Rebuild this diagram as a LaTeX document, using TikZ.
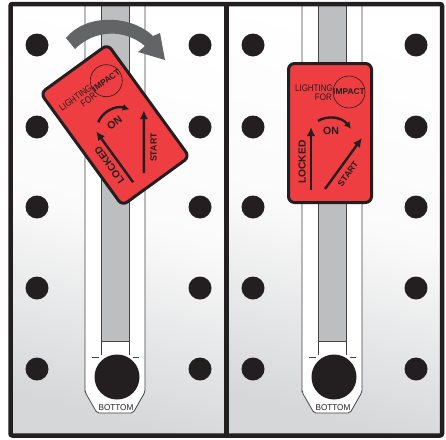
\documentclass[tikz,border=0pt]{standalone}
\usepackage{fontspec}
\usepackage{graphicx}
\usetikzlibrary{arrows.meta}
\setmainfont{Liberation Sans}
\definecolor{ink}{HTML}{231F20}
\definecolor{cardred}{HTML}{EF3E42}
\definecolor{slotgray}{HTML}{BCBEC0}
\definecolor{sweep}{HTML}{636466}
\definecolor{panellow}{HTML}{D6D7D9}
\tikzset{
  x=1pt,y=-1pt,
  peg/.style={circle,fill=ink,draw=none,minimum size=23pt,inner sep=0pt},
  bigpeg/.style={circle,fill=ink,draw=none,minimum size=45pt,inner sep=0pt},
  slotline/.style={draw=ink!85,line width=0.8pt},
  cardarrow/.style={draw=ink,line width=2.4pt,-{Latex[length=9pt,width=8.5pt]}},
  cardtext/.style={inner sep=0pt,text=ink},
  labeltext/.style={cardtext,font=\fontsize{10.2}{10.2}\selectfont\bfseries},
  logotext/.style={cardtext,font=\fontsize{9.5}{9.5}\selectfont},
  panelshade/.style={top color=white,bottom color=panellow,middle color=white!88!panellow,shading angle=-15},
  card/.pic={
    \draw[fill=cardred,draw=ink,line width=3pt,rounded corners=6pt] (-41.5,-69.5) rectangle (41.5,69.5);
    \draw[ink,line width=0.6pt] (19,-41) circle (16);
    \node[logotext,anchor=east] (-l1) at (3,-45) {\scalebox{0.84}[1]{LIGHTING}};
    \node[logotext,anchor=east] (-l2) at (2,-36) {\scalebox{0.84}[1]{FOR}};
    \node[cardtext,font=\fontsize{8.4}{8.4}\selectfont\bfseries] (-imp) at (19,-41) {IMPACT};
    \draw[draw=ink,line width=2.4pt,-{Latex[length=7pt,width=7pt]}] (-12,-12) .. controls (-3,-18) and (12,-16) .. (21,-4);
    \node[labeltext,font=\fontsize{10.5}{10.5}\selectfont\bfseries] (-on) at (1,-2) {ON};
    \coordinate (-a1) at (-19,57); \coordinate (-a2) at (-19,-6);
    \draw[cardarrow] (-a1) -- (-a2);
    \node[labeltext,rotate=90] (-locked) at (-28,29) {LOCKED};
    \coordinate (-b1) at (-5,56); \coordinate (-b2) at (32,5);
    \draw[cardarrow] (-b1) -- (-b2);
    \node[labeltext,font=\fontsize{8.8}{8.8}\selectfont\bfseries,rotate=54] (-start) at (18,41) {START};
  },
  panelslot/.pic={
    \draw[fill=white,draw=ink!85,line width=0.8pt]
      (-30,-380) -- (-30,15) [rounded corners=2pt] -- (-30,15) -- (-18,36) -- (18,36) -- (30,15) [sharp corners] -- (30,-380);
    \fill[slotgray] (-14,-380) rectangle (14,-36);
    \draw[slotline] (-14,-380) -- (-14,-22);
    \draw[slotline] (14,-380) -- (14,-22);
    \draw[slotline] (-14,-36) -- (14,-36);
    \draw[slotline] (-23,-20) -- (-16,-20);
    \draw[slotline] (18,-20) -- (24,-20);
    \node[bigpeg] (-hole) at (2,0) {};
    \node[inner sep=0pt,text=ink,font=\fontsize{8.5}{9}\selectfont] (-bottom) at (1,31) {\scalebox{0.96}[1]{BOTTOM}};
  }
}
\begin{document}
\begin{tikzpicture}
\useasboundingbox (0,0) rectangle (446,439);
\fill[white] (0,0) rectangle (446,439);
\begin{scope}
\clip (10.5,4) rectangle (442,435.5);
\shade[panelshade] (10,4) rectangle (226,436);
\shade[panelshade] (226,4) rectangle (442,436);
\pic (SL) at (115,377) {panelslot};
\pic (SR) at (332,377) {panelslot};
\end{scope}
\foreach \y [count=\i] in {45,127,207,288,369}{
  \node[peg] (a\i) at (37,\y) {};
  \node[peg] (b\i) at (200,\y) {};
  \node[peg] (c\i) at (253,\y) {};
  \node[peg] (d\i) at (416,\y) {};
}
\draw[ink,line width=4.5pt,rounded corners=2pt] (10.5,4) rectangle (442,435.5);
\draw[ink,line width=4.5pt] (226.5,4) -- (226.5,435.5);
\fill[sweep] (66,38) .. controls (85,14) and (130,14) .. (153,36) -- (160,33) -- (165,60) -- (138,52) -- (145,46) .. controls (125,29) and (95,29) .. (75,49) -- cycle;
\pic[transform shape,rotate=36] (CL) at (115,125) {card};
\pic[transform shape] (CR) at (330,133) {card};
\end{tikzpicture}
\end{document}
